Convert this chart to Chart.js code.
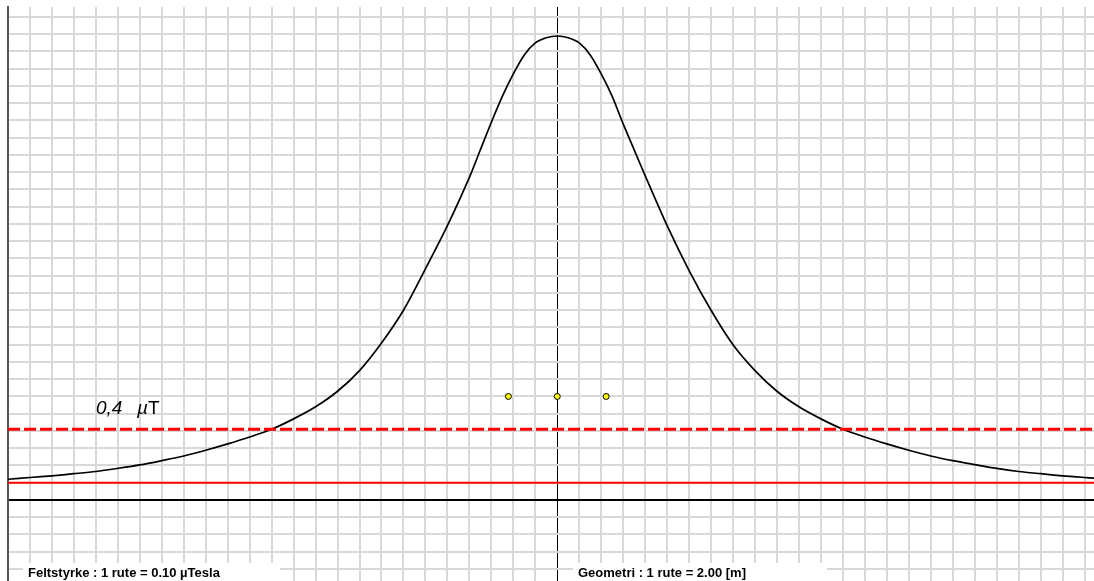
<!DOCTYPE html>
<html>
<head>
<meta charset="utf-8">
<script src="https://cdn.jsdelivr.net/npm/chart.js@4.4.1/dist/chart.umd.min.js"></script>
<style>
  html, body { margin: 0; padding: 0; background: #ffffff; }
  #c { display: block; }
</style>
</head>
<body>
<canvas id="c" width="1094" height="581"></canvas>
<script>
// Horizontal position along the profile (m), 1 grid square = 2 m
const positions = [-50,-48,-46,-44,-42,-40,-38,-36,-34,-32,-30,-28,-26,-24,-22,-20,-18,-16,-14,-12,-10,-8,-7,-6,-5,-4,-3,-2,-1,0,
                   1,2,3,4,5,6,7,8,10,12,14,16,18,20,22,24,26,28,30,32,34,36,38,40,42,44,46,48,48.86];
// Magnetic field strength (µT), 1 grid square = 0.10 µT
const fieldStrength = [0.12,0.13,0.14,0.152,0.165,0.183,0.203,0.228,0.255,0.288,0.325,0.365,0.41,0.47,0.54,0.63,0.75,0.91,1.10,1.34,1.59,1.87,2.03,2.19,2.34,2.47,2.58,2.65,2.68,2.69,
                       2.68,2.65,2.58,2.47,2.34,2.18,2.03,1.88,1.59,1.33,1.10,0.90,0.75,0.63,0.54,0.47,0.41,0.365,0.325,0.288,0.255,0.228,0.205,0.183,0.165,0.152,0.14,0.13,0.126];
// Conductor positions (m) and marker level
const conductorX = [-4.45, 0, 4.45];
const conductorY = [0.6, 0.6, 0.6];
// Reference levels (µT)
const limitLevel = 0.41;     // dashed red line, labelled 0,4 µT
const baseLevel = 0.1;       // solid red line
const xMin = -50, xMax = 48.86;
const yMin = -0.47, yMax = 2.858;
const limitLabel = "0,4";
const unitMu = "\u00B5";
const unitT = "T";
const fieldCaption = "Feltstyrke : 1 rute = 0.10 \u00B5Tesla";
const geoCaption = "Geometri : 1 rute = 2.00 [m]";

const curve = positions.map((x, i) => ({ x: x, y: fieldStrength[i] }));
const conductors = conductorX.map((x, i) => ({ x: x, y: conductorY[i] }));

const overlay = {
  id: 'overlay',
  afterDraw(chart) {
    const ctx = chart.ctx;
    const ys = chart.scales.y;
    ctx.save();
    const ly = ys.getPixelForValue(limitLevel) - 15;
    ctx.fillStyle = '#000';
    ctx.textBaseline = 'alphabetic';
    ctx.font = 'italic 19px "Liberation Sans", Arial, sans-serif';
    ctx.fillText(limitLabel, 96, ly);
    ctx.fillText(unitMu, 137, ly);
    ctx.font = '19px "Liberation Sans", Arial, sans-serif';
    ctx.fillText(unitT, 148, ly);
    ctx.fillStyle = '#fff';
    ctx.fillRect(23, 563, 257, 18);
    ctx.fillRect(573, 563, 254, 18);
    ctx.fillStyle = '#000';
    ctx.font = 'bold 13px "Liberation Sans", Arial, sans-serif';
    ctx.fillText(fieldCaption, 28, 577);
    ctx.fillText(geoCaption, 578, 577);
    ctx.restore();
  }
};

new Chart(document.getElementById('c'), {
  type: 'line',
  data: {
    datasets: [
      { data: [{x: xMin, y: baseLevel}, {x: xMax, y: baseLevel}], borderColor: '#ff0000', borderWidth: 2, pointRadius: 0 },
      { data: [{x: xMin, y: limitLevel}, {x: xMax, y: limitLevel}], borderColor: '#ff0000', borderWidth: 3, borderDash: [12, 4], pointRadius: 0 },
      { data: curve, borderColor: '#000000', borderWidth: 1.7, pointRadius: 0, tension: 0.3 },
      { data: conductors, showLine: false, pointRadius: 3, pointBackgroundColor: '#ffff00', pointBorderColor: '#000000', pointBorderWidth: 1 }
    ]
  },
  options: {
    responsive: false,
    animation: false,
    devicePixelRatio: 1,
    layout: { autoPadding: false, padding: { left: 8, top: 7, right: 0, bottom: 0 } },
    plugins: { legend: { display: false }, tooltip: { enabled: false } },
    scales: {
      x: {
        type: 'linear', min: xMin, max: xMax,
        ticks: { display: false, stepSize: 2, includeBounds: false, autoSkip: false },
        grid: {
          drawTicks: false,
          color: c => Math.abs(c.tick.value) < 1e-9 ? '#000000' : '#d8d8d8',
          lineWidth: c => Math.abs(c.tick.value) < 1e-9 ? 1 : 2
        },
        border: { display: false }
      },
      y: {
        type: 'linear', min: yMin, max: yMax,
        ticks: { display: false, stepSize: 0.1, includeBounds: false, autoSkip: false },
        grid: {
          drawTicks: false,
          color: c => Math.abs(c.tick.value) < 1e-9 ? '#000000' : '#d8d8d8',
          lineWidth: 2
        },
        border: { display: true, color: '#555555', width: 2 }
      }
    }
  },
  plugins: [overlay]
});
</script>
</body>
</html>
